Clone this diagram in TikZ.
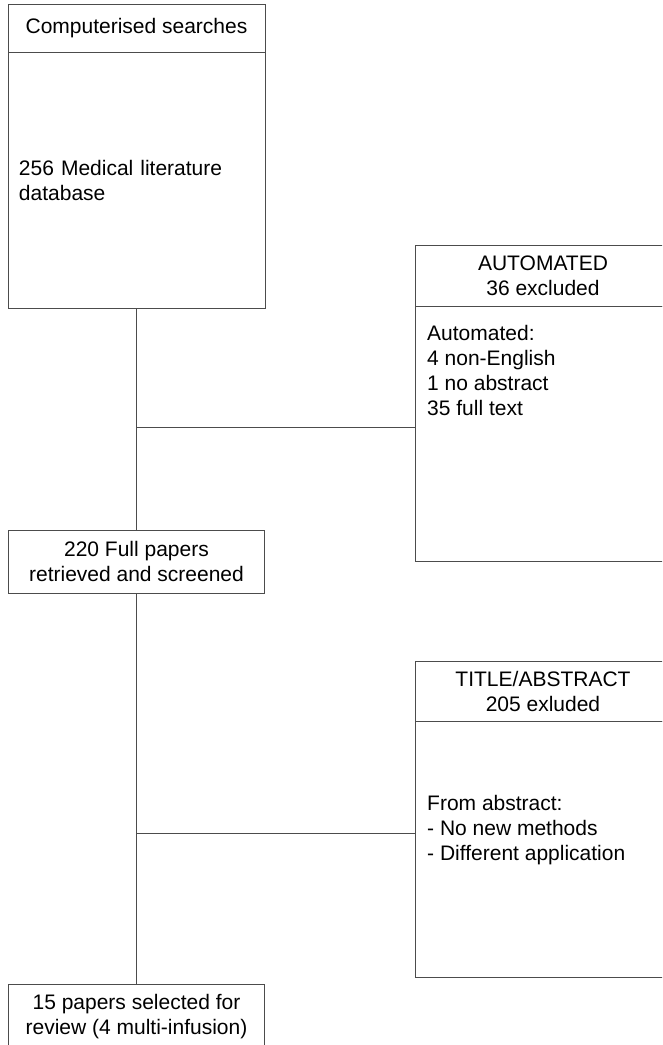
\documentclass[tikz,border=0pt]{standalone}
\usepackage{fontspec}
\setmainfont{Liberation Sans}
\begin{document}
\begin{tikzpicture}[x=1pt,y=-1pt,
  every node/.style={font=\fontsize{21}{25}\selectfont, text=black},
  box/.style={draw=black!70, line width=1pt, rectangle, inner sep=0pt, align=center},
  txt/.style={inner sep=0pt, align=left, anchor=north west},
  conn/.style={draw=black!70, line width=1pt}]
\useasboundingbox (0,0) rectangle (662,1045);
\clip (0,0) rectangle (662,1045);
% left column
\node[box, minimum width=257pt, minimum height=48pt] (cs) at (136.5,28) {Computerised searches};
\node[box, minimum width=257pt, minimum height=256pt, text width=235pt, align=left] (db) at (136.5,180) {256 Medical literature\\database};
\node[box, minimum width=256pt, minimum height=63pt] (fp) at (136.5,561.5) {220 Full papers\\retrieved and screened};
\node[box, minimum width=256pt, minimum height=66pt] (sel) at (136.5,1017) {15 papers selected for\\review (4 multi-infusion)};
% right column, AUTOMATED
\node[box, minimum width=256pt, minimum height=61pt] (auth) at (543,275.5) {AUTOMATED\\36 excluded};
\node[box, minimum width=256pt, minimum height=255pt] (autb) at (543,433.5) {};
\node[txt] (autt) at (427,325) {Automated:\\4 non-English\\1 no abstract\\35 full text};
% right column, TITLE/ABSTRACT
\node[box, minimum width=256pt, minimum height=60pt] (tah) at (543,691) {TITLE/ABSTRACT\\205 exluded};
\node[box, minimum width=256pt, minimum height=256pt] (tab) at (543,849) {};
\node[txt] (tat) at (427,795) {From abstract:\\- No new methods\\- Different application};
% connectors
\draw[conn] (db.south) -- (fp.north);
\draw[conn] (fp.south) -- (sel.north);
\coordinate (j1) at (136.5,427);
\coordinate (j2) at (136.5,833);
\draw[conn] (j1) -- (j1 -| autb.west);
\draw[conn] (j2) -- (j2 -| tab.west);
\end{tikzpicture}
\end{document}
